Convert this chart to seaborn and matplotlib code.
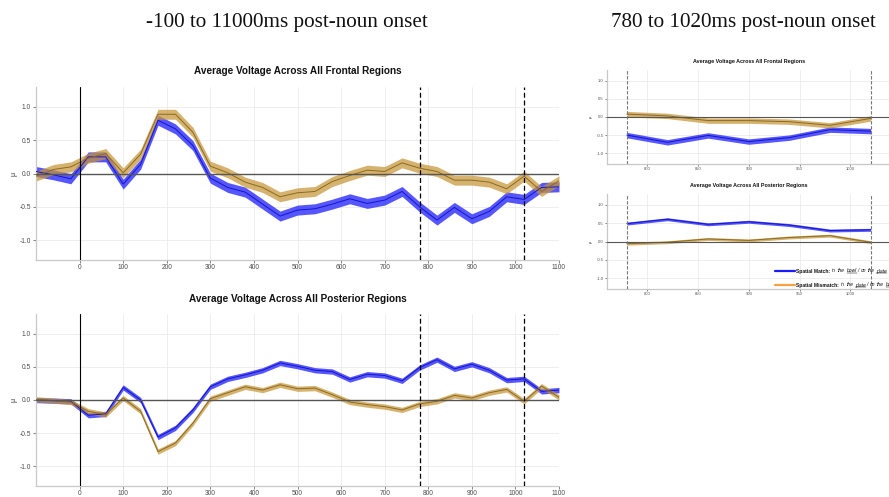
import numpy as np
import pandas as pd
import matplotlib
matplotlib.use("Agg")
import matplotlib.pyplot as plt
import seaborn as sns
from matplotlib.lines import Line2D

# ---------------- data ----------------
time_ms = [-100, -60, -20, 20, 60, 100, 140, 180, 220, 260, 300, 340, 380, 420, 460,
           500, 540, 580, 620, 660, 700, 740, 780, 820, 860, 900, 940, 980, 1020, 1060, 1100]

frontal_match = [0.03, -0.02, -0.08, 0.25, 0.25, -0.16, 0.14, 0.80, 0.67, 0.42, -0.07,
                 -0.21, -0.28, -0.46, -0.64, -0.55, -0.53, -0.46, -0.38, -0.45, -0.40,
                 -0.27, -0.50, -0.70, -0.51, -0.68, -0.57, -0.35, -0.39, -0.21, -0.20]
frontal_mismatch = [-0.04, 0.06, 0.10, 0.23, 0.30, 0.01, 0.29, 0.89, 0.89, 0.62, 0.11,
                    0.01, -0.13, -0.21, -0.35, -0.29, -0.27, -0.12, -0.03, 0.05, 0.03,
                    0.16, 0.08, 0.03, -0.10, -0.10, -0.13, -0.23, -0.04, -0.27, -0.11]
posterior_match = [0.00, -0.01, -0.02, -0.23, -0.21, 0.19, 0.00, -0.56, -0.42, -0.15, 0.20,
                   0.32, 0.38, 0.45, 0.56, 0.51, 0.45, 0.43, 0.31, 0.39, 0.37,
                   0.29, 0.49, 0.61, 0.47, 0.54, 0.45, 0.30, 0.32, 0.13, 0.15]
posterior_mismatch = [0.01, -0.01, -0.03, -0.17, -0.22, 0.03, -0.17, -0.78, -0.65, -0.35, 0.02,
                      0.11, 0.20, 0.15, 0.23, 0.17, 0.18, 0.08, -0.03, -0.07, -0.10,
                      -0.15, -0.06, -0.02, 0.07, 0.03, 0.11, 0.16, -0.02, 0.21, 0.04]

frontal_se = 0.075
posterior_se = 0.04

conditions = ["Spatial Match", "Spatial Mismatch"]
window = [780, 1020]
full_xticks = [0, 100, 200, 300, 400, 500, 600, 700, 800, 900, 1000, 1100]
zoom_xticks = [800, 850, 900, 950, 1000]
yticks = [-1.0, -0.5, 0.0, 0.5, 1.0]
panel_titles = ["Average Voltage Across All Frontal Regions",
                "Average Voltage Across All Posterior Regions"]
column_titles = ["-100 to 11000ms post-noun onset", "780 to 1020ms post-noun onset"]

# ---------------- styling ----------------
sns.set_theme(style="white")
plt.rcParams["font.family"] = ["Liberation Sans", "DejaVu Sans"]

band_colors = {"Spatial Match": (0.22, 0.22, 1.0), "Spatial Mismatch": (0.78, 0.58, 0.22)}
band_alpha = {"Spatial Match": 0.85, "Spatial Mismatch": 0.72}
line_colors = {"Spatial Match": "#1414C8", "Spatial Mismatch": "#8A6A20"}

def make_df(match, mismatch):
    return pd.DataFrame({
        "time": time_ms * 2,
        "value": list(match) + list(mismatch),
        "condition": [conditions[0]] * len(time_ms) + [conditions[1]] * len(time_ms),
    })

df_front = make_df(frontal_match, frontal_mismatch)
df_post = make_df(posterior_match, posterior_mismatch)

W, H = 889, 497
fig = plt.figure(figsize=(W / 100, H / 100), dpi=100)

def px_axes(left, top, right, bottom):
    return fig.add_axes([left / W, (H - bottom) / H, (right - left) / W, (bottom - top) / H])

def style_axes(ax, tick_size, xticks, xlim):
    ax.set_xlim(*xlim)
    ax.set_ylim(-1.3, 1.3)
    ax.set_xticks(xticks)
    ax.set_yticks(yticks)
    ax.set_yticklabels([f"{v:.1f}" for v in yticks])
    ax.grid(True, color="#ebebeb", lw=0.6)
    ax.set_axisbelow(True)
    for s in ["top", "right"]:
        ax.spines[s].set_visible(False)
    for s in ["left", "bottom"]:
        ax.spines[s].set_color("#c8c8c8")
        ax.spines[s].set_linewidth(0.9)
    ax.tick_params(axis="both", labelsize=tick_size, colors="#4d4d4d", length=2,
                   width=0.5, pad=1.5, left=True, bottom=True)
    ax.set_xlabel("")

def draw_panel(ax, df, se, sub=None):
    d = df if sub is None else df[(df["time"] >= sub[0]) & (df["time"] <= sub[1])]
    for cond in conditions:
        c = d[d["condition"] == cond]
        ax.fill_between(c["time"], c["value"] - se, c["value"] + se,
                        color=band_colors[cond], alpha=band_alpha[cond], lw=0, zorder=2)
    sns.lineplot(data=d, x="time", y="value", hue="condition", palette=line_colors,
                 ax=ax, legend=False, errorbar=None, lw=0.7, zorder=3)

# ---- left column
ax_f = px_axes(36, 87, 559, 260)
ax_p = px_axes(36, 314, 559, 486)
for ax, df, se, title in [(ax_f, df_front, frontal_se, panel_titles[0]),
                          (ax_p, df_post, posterior_se, panel_titles[1])]:
    draw_panel(ax, df, se)
    style_axes(ax, 4.8, full_xticks, (-100, 1100))
    ax.tick_params(axis="x", pad=1.0)
    ax.axhline(0, color="#555555", lw=1.0, zorder=4)
    ax.axvline(0, color="black", lw=0.8, zorder=4)
    for xv in window:
        ax.axvline(xv, color="black", lw=0.9, ls=(0, (4, 2.2)), zorder=5)
    ax.set_title(title, fontsize=7.2, fontweight="bold", color="#111111", pad=9)
    ax.set_ylabel("μ", fontsize=5, rotation=90, labelpad=1.5, color="#333333")

# ---- right column
ax_fz = px_axes(607, 70, 891, 164)
ax_pz = px_axes(607, 194, 891, 289)
for ax, df, se, title in [(ax_fz, df_front, frontal_se, panel_titles[0]),
                          (ax_pz, df_post, posterior_se, panel_titles[1])]:
    draw_panel(ax, df, se, sub=window)
    style_axes(ax, 3.0, zoom_xticks, (760.5, 1040))
    ax.axhline(0, color="#555555", lw=0.8, zorder=4)
    for xv in window:
        ax.axvline(xv, color="#777777", lw=0.8, ls=(0, (3, 1.5)), zorder=5)
    ax.set_title(title, fontsize=3.9, fontweight="bold", color="#111111", pad=5)
    ax.set_ylabel("μ", fontsize=3, rotation=90, labelpad=2.5, color="#333333")
    ax.tick_params(length=1.5, pad=1)

# ---- column headings
serif = ["Liberation Serif", "DejaVu Serif"]
fig.text(287 / W, 1 - 22 / H, column_titles[0], fontsize=15.2, family=serif,
         ha="center", va="center", color="#111111")
fig.text(743.5 / W, 1 - 22 / H, column_titles[1], fontsize=15.2, family=serif,
         ha="center", va="center", color="#111111")

# ---- legend (drawn in figure pixels)
fig.canvas.draw()
renderer = fig.canvas.get_renderer()
legend_rows = [
    ("#1a1aff", [("Spatial Match:", "bold", "normal", False, True), ("in", "normal", "italic", False, True),
                 ("the", "normal", "italic", False, True), ("bowl", "normal", "italic", True, False),
                 ("/", "normal", "italic", False, True), ("on", "normal", "italic", False, True),
                 ("the", "normal", "italic", False, True), ("plate", "normal", "italic", True, False)]),
    ("#f7a045", [("Spatial Mismatch:", "bold", "normal", False, True), ("in", "normal", "italic", False, True),
                 ("the", "normal", "italic", False, True), ("plate", "normal", "italic", True, False),
                 ("/", "normal", "italic", False, True), ("on", "normal", "italic", False, True),
                 ("the", "normal", "italic", False, True), ("bowl", "normal", "italic", True, False)]),
]
leg_size = 3.6
for (color, pieces), ypx in zip(legend_rows, [271, 285]):
    yf = 1 - ypx / H
    fig.add_artist(Line2D([775 / W, 795 / W], [yf, yf], color=color, lw=1.6,
                          transform=fig.transFigure))
    xpx = 796.5
    for s, weight, style, ul, space in pieces:
        t = fig.text(xpx / W, yf, s, fontsize=leg_size, fontweight=weight, fontstyle=style,
                     ha="left", va="center", color="#111111")
        bb = t.get_window_extent(renderer)
        if ul:
            uy = (bb.y0 + 0.2) / H
            fig.add_artist(Line2D([bb.x0 / W, bb.x1 / W], [uy, uy], color="#111111", lw=0.35,
                                  transform=fig.transFigure))
        xpx = bb.x1 + (1.8 if space else 0.4)

fig.savefig("out.png", dpi=100)
